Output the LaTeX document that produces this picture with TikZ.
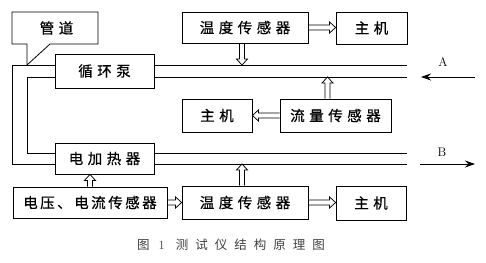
\documentclass[tikz,border=0pt]{standalone}
\usepackage{fontspec}
\newfontfamily\cjk[FakeBold=0.6]{Noto Sans CJK SC}
\newfontfamily\cjkcap{Noto Sans CJK SC}
\usetikzlibrary{arrows.meta,calc}
\def\zzgap{4.5pt}
\def\zzsp#1{\zzspA#1\relax}
\def\zzspA#1{#1\futurelet\zznext\zzspB}
\def\zzspB{\ifx\zznext\relax\expandafter\zzspEnd\else\hspace{\zzgap}\expandafter\zzspA\fi}
\def\zzspEnd\relax{}
\newcommand\cjkbox{\cjk\fontsize{14.5pt}{17pt}\selectfont}
\begin{document}
\begin{tikzpicture}[x=1pt,y=-1pt,
  box/.style={draw, line width=0.8pt, inner sep=0pt, font=\cjkbox},
  pipe/.style={line width=0.8pt},
  hollow/.style={draw, line width=0.75pt, line join=miter, to path={
    let \p1=(\tikztostart), \p2=(\tikztotarget),
        \n1={veclen(\x2-\x1,\y2-\y1)},
        \n2={(\x2-\x1)/\n1}, \n3={(\y2-\y1)/\n1} in
    ({\x1-2.4pt*\n3},{\y1+2.4pt*\n2}) --
    ({\x2-6pt*\n2-2.4pt*\n3},{\y2-6pt*\n3+2.4pt*\n2}) --
    ({\x2-6pt*\n2-5.5pt*\n3},{\y2-6pt*\n3+5.5pt*\n2}) --
    (\x2,\y2) --
    ({\x2-6pt*\n2+5.5pt*\n3},{\y2-6pt*\n3-5.5pt*\n2}) --
    ({\x2-6pt*\n2+2.4pt*\n3},{\y2-6pt*\n3-2.4pt*\n2}) --
    ({\x1+2.4pt*\n3},{\y1-2.4pt*\n2})}},
  flowarrow/.style={line width=0.9pt, -{Stealth[length=10pt,width=7pt]}},
  lbl/.style={font=\fontsize{12.5pt}{14pt}\selectfont, inner sep=0pt}]
\useasboundingbox (0,0) rectangle (486,262);
% boxes
\node[box, minimum width=99pt, minimum height=34pt] (pump) at (104.5,71) {\zzsp{循环泵}};
\node[box, minimum width=126pt, minimum height=31pt] (t1) at (245,27.5) {\zzsp{温度传感器}};
\node[box, minimum width=71pt, minimum height=32pt] (m1) at (371.5,28) {\zzsp{主机}};
\node[box, minimum width=70pt, minimum height=33pt] (m2) at (217,115.5) {\zzsp{主机}};
\node[box, minimum width=111pt, minimum height=33pt] (flow) at (335.5,115.5) {\zzsp{流量传感器}};
\node[box, minimum width=99pt, minimum height=31pt] (heat) at (104.5,158.5) {\zzsp{电加热器}};
\node[box, minimum width=154pt, minimum height=31pt] (volt) at (90,202.5) {\def\zzgap{2.5pt}\zzsp{电压、电流传感器}};
\node[box, minimum width=126pt, minimum height=33pt] (t2) at (245,202.5) {\zzsp{温度传感器}};
\node[box, minimum width=70pt, minimum height=34pt] (m3) at (371,203) {\zzsp{主机}};
% pipe coordinates
\coordinate (oT) at (12,65);
\coordinate (oB) at (12,164);
\coordinate (iT) at (27,77);
\coordinate (iB) at (27,153);
\coordinate (eT) at (407,65);
\coordinate (eB) at (407,164);
% pipe
\draw[pipe] (pump.west |- oT) -- (oT) -- (oB) -- (heat.west |- oB);
\draw[pipe] (pump.west |- iT) -- (iT) -- (iB) -- (heat.west |- iB);
\draw[pipe] (pump.east |- oT) -- (eT);
\draw[pipe] (pump.east |- iT) -- (eT |- iT);
\draw[pipe] (heat.east |- oB) -- (eB);
\draw[pipe] (heat.east |- iB) -- (eB |- iB);
% callout 管道
\draw[line width=0.8pt] (12,44) -- (12,12) -- (98,12) -- (98,44) -- (50,44) -- (27,65) -- (27,44) -- cycle;
\node[font=\cjkbox, inner sep=0pt] (guan) at (56.5,28) {\zzsp{管道}};
% arrow end coordinates
\coordinate (t1s) at ([xshift=-3pt]t1.south);
\coordinate (t1p) at (t1s |- oT);
\coordinate (fls) at ([xshift=-8pt]flow.north);
\coordinate (flp) at (fls |- iT);
\coordinate (vn) at (volt.north);
\coordinate (hs) at (vn |- heat.south);
\coordinate (t2n) at ([xshift=-3pt]t2.north);
\coordinate (t2p) at (t2n |- oB);
% hollow arrows
\path[hollow] (t1s) to (t1p);
\path[hollow] (t1.east) to (m1.west |- t1.east);
\path[hollow] (fls) to (flp);
\path[hollow] (flow.west) to (m2.east);
\path[hollow] (vn) to (hs);
\path[hollow] (volt.east) to (t2.west |- volt.east);
\path[hollow] (t2n) to (t2p);
\path[hollow] (t2.east) to (m3.west |- t2.east);
% flow arrows A and B
\coordinate (aS) at (475,77);
\coordinate (aE) at (421,77);
\coordinate (bS) at (420,164);
\coordinate (bE) at (475,164);
\draw[flowarrow] (aS) -- (aE);
\draw[flowarrow] (bS) -- (bE);
\node[lbl] (A) at (443,62) {A};
\node[lbl] (B) at (442,152) {B};
% caption
\node[font=\cjkcap\fontsize{12.5pt}{14pt}\selectfont, text=black!75, inner sep=0pt] (cap) at (231,245)
  {\zzsp{图}\hspace{9pt}{\normalfont 1}\hspace{11pt}\def\zzgap{7pt}\zzsp{测试仪结构原理图}};
\end{tikzpicture}
\end{document}
